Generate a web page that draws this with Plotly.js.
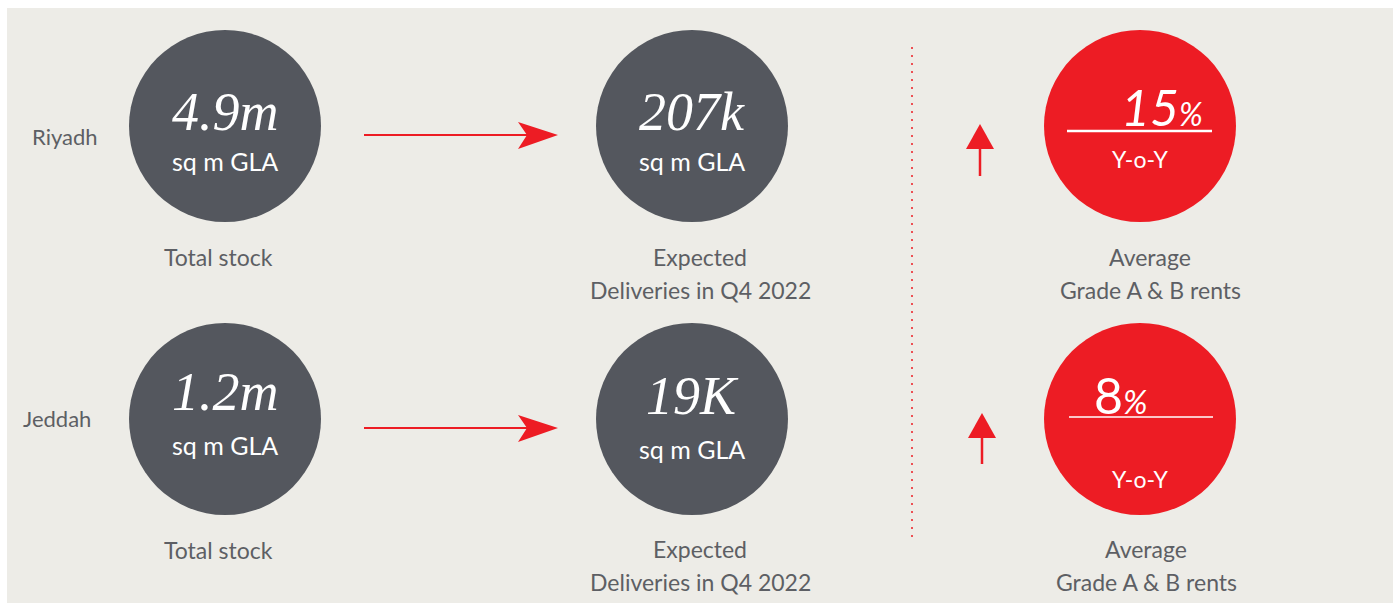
<!DOCTYPE html>
<html>
<head>
<meta charset="utf-8">
<script src="https://cdn.plot.ly/plotly-3.0.1.min.js"></script>
<style>html,body{margin:0;padding:0;background:#fff;}#chart{width:1393px;height:603px;}</style>
</head>
<body>
<div id="chart"></div>
<script>
// ---- data ----
const cities = ['Riyadh', 'Jeddah'];
const totalStock = ['4.9m', '1.2m'];
const expectedDeliveries = ['207k', '19K'];
const rentGrowthPct = ['15', '8'];
const unitLabel = 'sq m GLA';
const stockLabel = 'Total stock';
const deliveriesLabel = ['Expected', 'Deliveries in Q4 2022'];
const rentLabel = ['Average', 'Grade A & B rents'];
const yoyLabel = 'Y-o-Y';

// ---- styling / layout ----
const W = 1393, H = 603;
const BG = '#edece7', DARK = '#54575e', RED = '#ed1c24', TXT = '#5d5f64';
const SANS = 'Lato, "Open Sans", sans-serif';
const SERIF = '"Liberation Serif", "DejaVu Serif", serif';
const rowY = [126, 419];
const colX = [225, 692, 1140];
const R = 96;

const shapes = [];
const annotations = [];

shapes.push({type: 'rect', xref: 'x', yref: 'y', x0: 7, x1: W, y0: 8, y1: H,
  fillcolor: BG, line: {width: 0}, layer: 'below'});

// dotted divider
shapes.push({type: 'line', xref: 'x', yref: 'y', x0: 912, x1: 912, y0: 47, y1: 542,
  line: {color: RED, width: 1.5, dash: '2px,6px'}});

function txt(x, y, text, size, color, family, xanchor) {
  annotations.push({xref: 'x', yref: 'y', x: x, y: y, text: text, showarrow: false,
    xanchor: xanchor || 'center', yanchor: 'middle',
    font: {size: size, color: color, family: family}});
}

const upArrow = [
  {x: 980, top: 124, base: 149, bottom: 176},
  {x: 982, top: 413, base: 438, bottom: 464}
];
const rentLayout = [
  {line: 131, lx0: 1067, lx1: 1212, yoy: 159, pct: 107},
  {line: 417, lx0: 1069, lx1: 1213, yoy: 479, pct: 395}
];
const valueY = [[112, 112], [392, 396]];
const unitY = [[161, 161], [445, 449]];
const labelY = [[257, 257, 290], [550, 549, 582]];
const labelRentX = [1150, 1146];
const cityX = [30, 21];
const cityY = [136, 418];

cities.forEach((city, i) => {
  const cy = rowY[i];
  // circles
  colX.forEach((cx, j) => {
    shapes.push({type: 'circle', xref: 'x', yref: 'y', x0: cx - R, x1: cx + R, y0: cy - R, y1: cy + R,
      fillcolor: j === 2 ? RED : DARK, line: {width: 0}});
  });
  // city label
  txt(cityX[i], cityY[i], city, 22, TXT, SANS, 'left');
  // total stock
  txt(colX[0], valueY[i][0], '<i>' + totalStock[i] + '</i>', 54, '#ffffff', SERIF);
  txt(colX[0], unitY[i][0], unitLabel, 25, '#ffffff', SANS);
  // deliveries
  txt(colX[1], valueY[i][1], '<i>' + expectedDeliveries[i] + '</i>', 54, '#ffffff', SERIF);
  txt(colX[1], unitY[i][1], unitLabel, 25, '#ffffff', SANS);
  // right arrow
  const ay = cy + 9;
  shapes.push({type: 'line', xref: 'x', yref: 'y', x0: 364, x1: 528, y0: ay, y1: ay,
    line: {color: RED, width: 2}});
  shapes.push({type: 'path', xref: 'x', yref: 'y',
    path: `M 558 ${ay} L 518 ${ay - 13} L 527 ${ay} L 518 ${ay + 14} Z`,
    fillcolor: RED, line: {width: 0}});
  // up arrow
  const u = upArrow[i];
  shapes.push({type: 'line', xref: 'x', yref: 'y', x0: u.x, x1: u.x, y0: u.base - 1, y1: u.bottom,
    line: {color: RED, width: 2.5}});
  shapes.push({type: 'path', xref: 'x', yref: 'y',
    path: `M ${u.x} ${u.top} L ${u.x - 14} ${u.base} L ${u.x + 14} ${u.base} Z`,
    fillcolor: RED, line: {width: 0}});
  // rent circle contents
  const rl = rentLayout[i];
  shapes.push({type: 'line', xref: 'x', yref: 'y', x0: rl.lx0, x1: rl.lx1, y0: rl.line, y1: rl.line,
    line: {color: '#ffffff', width: i === 0 ? 2.5 : 1.5}});
  if (i === 0) {
    annotations.push({xref: 'x', yref: 'y', x: 1205, y: rl.pct, showarrow: false,
      xanchor: 'right', yanchor: 'middle',
      text: '<i>' + rentGrowthPct[i] + '<span style="font-size:32px">%</span></i>',
      font: {size: 50, color: '#ffffff', family: SANS}});
  } else {
    annotations.push({xref: 'x', yref: 'y', x: 1092, y: rl.pct, showarrow: false,
      xanchor: 'left', yanchor: 'middle',
      text: rentGrowthPct[i] + '<i><span style="font-size:33px">%</span></i>',
      font: {size: 50, color: '#ffffff', family: SANS}});
  }
  txt(colX[2], rl.yoy, yoyLabel, 23, '#ffffff', SANS);
  // labels below
  const ly = labelY[i];
  txt(218, ly[0], stockLabel, 23, TXT, SANS);
  txt(700, ly[1], deliveriesLabel[0], 23, TXT, SANS);
  txt(700, ly[2], deliveriesLabel[1], 23, TXT, SANS);
  txt(labelRentX[i], ly[1], rentLabel[0], 23, TXT, SANS);
  txt(labelRentX[i], ly[2], rentLabel[1], 23, TXT, SANS);
});

const layout = {
  width: W, height: H,
  margin: {l: 0, r: 0, t: 0, b: 0, pad: 0},
  paper_bgcolor: '#ffffff', plot_bgcolor: '#ffffff',
  xaxis: {range: [0, W], visible: false, fixedrange: true},
  yaxis: {range: [H, 0], visible: false, fixedrange: true},
  showlegend: false,
  shapes: shapes,
  annotations: annotations
};

Plotly.newPlot('chart', [{x: [], y: [], type: 'scatter', mode: 'markers', hoverinfo: 'skip'}], layout,
  {displayModeBar: false, staticPlot: true});
</script>
</body>
</html>
